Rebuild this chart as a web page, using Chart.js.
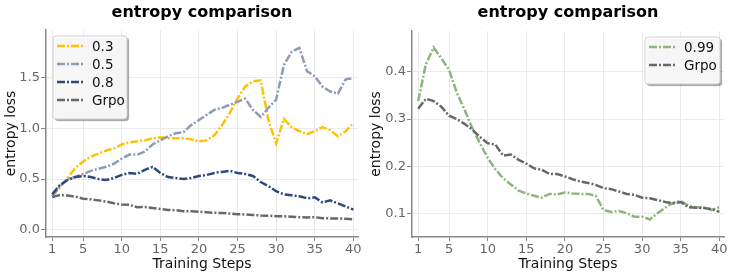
<!DOCTYPE html>
<html>
<head>
<meta charset="utf-8">
<script src="https://cdn.jsdelivr.net/npm/chart.js@4.4.1/dist/chart.umd.min.js"></script>
<style>
  html, body { margin: 0; padding: 0; background: #fff; }
  #wrap { position: relative; width: 731px; height: 276px; }
  .panel { position: absolute; top: 0; height: 276px; }
  #left { left: 0; width: 365px; }
  #right { left: 365px; width: 366px; }
</style>
</head>
<body>
<div id="wrap">
  <div class="panel" id="left"><canvas id="chartLeft"></canvas></div>
  <div class="panel" id="right"><canvas id="chartRight"></canvas></div>
</div>
<script>
// training steps 1..40
const steps = [1, 2, 3, 4, 5, 6, 7, 8, 9, 10, 11, 12, 13, 14, 15, 16, 17, 18, 19, 20,
  21, 22, 23, 24, 25, 26, 27, 28, 29, 30, 31, 32, 33, 34, 35, 36, 37, 38, 39, 40];
const xTicks = [1, 5, 10, 15, 20, 25, 30, 35, 40];
const yTicksLeft = [0, 0.5, 1.0, 1.5];
const yTicksRight = [0.1, 0.2, 0.3, 0.4];

const ratio03 = [0.33, 0.42, 0.51, 0.61, 0.67, 0.72, 0.75, 0.78, 0.80, 0.84, 0.86, 0.87, 0.88, 0.90, 0.91, 0.90, 0.90, 0.90, 0.89, 0.87,
  0.88, 0.93, 1.03, 1.15, 1.29, 1.41, 1.46, 1.47, 1.08, 0.85, 1.09, 1.01, 0.97, 0.94, 0.97, 1.01, 0.98, 0.92, 0.97, 1.05];
const ratio05 = [0.33, 0.43, 0.50, 0.52, 0.55, 0.58, 0.60, 0.62, 0.65, 0.70, 0.74, 0.74, 0.77, 0.84, 0.88, 0.92, 0.95, 0.96, 1.03, 1.08,
  1.13, 1.18, 1.20, 1.23, 1.26, 1.29, 1.18, 1.11, 1.20, 1.28, 1.62, 1.75, 1.79, 1.56, 1.51, 1.41, 1.36, 1.34, 1.48, 1.49];
const ratio08 = [0.35, 0.44, 0.49, 0.52, 0.53, 0.52, 0.50, 0.49, 0.51, 0.54, 0.56, 0.55, 0.59, 0.62, 0.56, 0.52, 0.51, 0.50, 0.51, 0.53,
  0.54, 0.56, 0.57, 0.58, 0.56, 0.55, 0.53, 0.47, 0.43, 0.38, 0.35, 0.34, 0.33, 0.31, 0.32, 0.27, 0.29, 0.26, 0.23, 0.20];
const grpo = [0.322, 0.343, 0.338, 0.326, 0.307, 0.300, 0.290, 0.278, 0.262, 0.249, 0.246, 0.223, 0.225, 0.214, 0.206, 0.196, 0.193, 0.184, 0.184, 0.179,
  0.173, 0.168, 0.165, 0.161, 0.154, 0.152, 0.147, 0.142, 0.140, 0.134, 0.133, 0.129, 0.125, 0.122, 0.125, 0.114, 0.113, 0.112, 0.110, 0.104];
const ratio099 = [0.338, 0.416, 0.451, 0.428, 0.404, 0.356, 0.320, 0.281, 0.249, 0.218, 0.194, 0.175, 0.162, 0.149, 0.143, 0.138, 0.134, 0.142, 0.141, 0.145,
  0.143, 0.142, 0.142, 0.138, 0.108, 0.104, 0.106, 0.101, 0.094, 0.094, 0.088, 0.101, 0.113, 0.123, 0.127, 0.117, 0.114, 0.113, 0.108, 0.114];

const FONT = "'DejaVu Sans', sans-serif";
const DASH = [8, 2, 2, 2];
const colors = { r03: '#FFC107', r05: '#8D9DB6', r08: '#2E4A7D', grpo: '#686868', r099: '#8CB77A' };

Chart.defaults.font.family = FONT;
Chart.defaults.animation = false;

const toPoints = vals => steps.map((s, i) => ({ x: s, y: vals[i] }));

function series(label, vals, color, order) {
  return {
    label, data: toPoints(vals), borderColor: color, backgroundColor: color,
    borderWidth: 2.5, borderDash: DASH, pointRadius: 0, tension: 0, order,
  };
}

// title over the plot area + matplotlib-like legend box with shadow
const panelDecor = {
  id: 'panelDecor',
  afterDraw(chart, args, opts) {
    const { ctx, chartArea: a } = chart;
    ctx.save();
    ctx.fillStyle = '#000';
    ctx.font = `bold 16px ${FONT}`;
    ctx.textAlign = 'center';
    ctx.textBaseline = 'middle';
    ctx.fillText(opts.title, (a.left + a.right) / 2, 13);

    const items = opts.items;
    const w = opts.boxWidth, rowH = 18, h = 11 + items.length * rowH;
    const x = opts.side === 'left' ? a.left + 7 : a.right - 4 - w;
    const y = a.top + 6;
    ctx.shadowColor = 'rgba(0,0,0,0.4)';
    ctx.shadowOffsetX = 2;
    ctx.shadowOffsetY = 2;
    ctx.shadowBlur = 1;
    ctx.beginPath();
    ctx.roundRect(x, y, w, h, 3);
    ctx.fillStyle = 'rgba(255,255,255,0.9)';
    ctx.fill();
    ctx.shadowColor = 'transparent';
    ctx.strokeStyle = '#d0d0d0';
    ctx.lineWidth = 1;
    ctx.stroke();

    ctx.textAlign = 'left';
    ctx.font = `13.5px ${FONT}`;
    items.forEach((it, i) => {
      const cy = y + 10 + i * rowH;
      ctx.beginPath();
      ctx.setLineDash(DASH);
      ctx.strokeStyle = it.color;
      ctx.lineWidth = 2.5;
      ctx.moveTo(x + 4, cy);
      ctx.lineTo(x + 31, cy);
      ctx.stroke();
      ctx.setLineDash([]);
      ctx.fillStyle = '#111';
      ctx.fillText(it.label, x + 39, cy + 1);
    });
    ctx.restore();
  },
};

function renderPanel(id, datasets, yMin, yMax, yTicks, yWidth, decor) {
  const ctx = document.getElementById(id);
  return new Chart(ctx, {
    type: 'line',
    data: { datasets },
    options: {
      responsive: true,
      maintainAspectRatio: false,
      layout: { padding: { top: decor.top, right: 7, left: 0, bottom: 0 } },
      plugins: { legend: { display: false }, tooltip: { enabled: false }, panelDecor: decor },
      scales: {
        x: {
          type: 'linear', min: 0.2, max: 40.6,
          afterBuildTicks: s => { s.ticks = xTicks.map(v => ({ value: v })); },
          afterFit: s => { s.height = 39; },
          grid: { color: '#ebebeb', tickColor: '#888', tickLength: 4 },
          border: { color: '#888', width: 1.5 },
          ticks: { color: '#666', font: { size: 13 }, padding: 1, maxRotation: 0 },
          title: { display: true, text: 'Training Steps', color: '#111', font: { size: 14 }, padding: { top: 0, bottom: 3 } },
        },
        y: {
          min: yMin, max: yMax,
          afterBuildTicks: s => { s.ticks = yTicks.map(v => ({ value: v })); },
          afterFit: s => { s.width = yWidth; },
          grid: { color: '#ebebeb', tickColor: '#888', tickLength: 5 },
          border: { color: '#888', width: 1.5 },
          ticks: { color: '#666', font: { size: 13 }, padding: 1, callback: v => Number(v).toFixed(1) },
          title: { display: true, text: 'entropy loss', color: '#111', font: { size: 14 }, padding: { top: 3, bottom: 0 } },
        },
      },
    },
    plugins: [panelDecor],
  });
}

renderPanel('chartLeft', [
  series('0.3', ratio03, colors.r03, 4),
  series('0.5', ratio05, colors.r05, 3),
  series('0.8', ratio08, colors.r08, 2),
  series('Grpo', grpo, colors.grpo, 1),
], -0.07, 1.965, yTicksLeft, 46, {
  title: 'entropy comparison', side: 'left', boxWidth: 74, top: 30,
  items: [
    { label: '0.3', color: colors.r03 },
    { label: '0.5', color: colors.r05 },
    { label: '0.8', color: colors.r08 },
    { label: 'Grpo', color: colors.grpo },
  ],
});

renderPanel('chartRight', [
  series('0.99', ratio099, colors.r099, 2),
  series('Grpo', grpo, colors.grpo, 1),
], 0.051, 0.486, yTicksRight, 47, {
  title: 'entropy comparison', side: 'right', boxWidth: 75, top: 31,
  items: [
    { label: '0.99', color: colors.r099 },
    { label: 'Grpo', color: colors.grpo },
  ],
});
</script>
</body>
</html>
